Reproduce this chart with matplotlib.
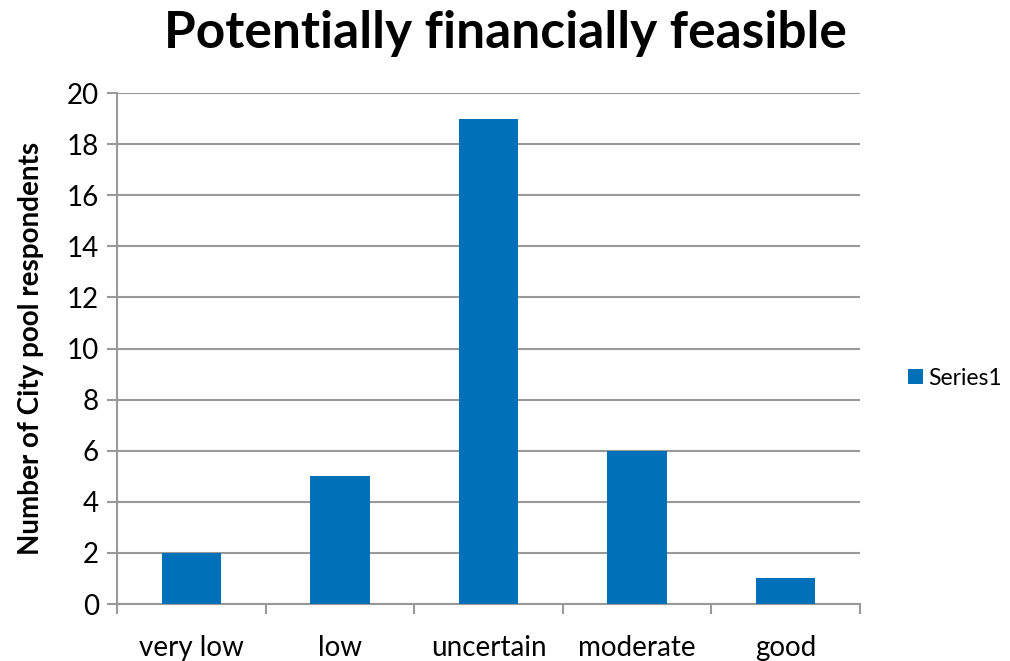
import matplotlib.pyplot as plt
from matplotlib.ticker import FixedLocator, NullFormatter

categories = ["very low", "low", "uncertain", "moderate", "good"]
values = [2, 5, 19, 6, 1]
yticks = list(range(0, 21, 2))

plt.rcParams['font.family'] = ['Lato', 'DejaVu Sans']

fig = plt.figure(figsize=(10.10, 6.61), dpi=100)
ax = fig.add_axes([0.1158, 0.0862, 0.7357, 0.7731])

x = list(range(len(categories)))
ax.bar(x, values, width=0.4, color="#0070B8", label="Series1", zorder=3)

ax.set_xlim(-0.5, len(categories) - 0.5)
ax.set_ylim(0, 20)
ax.set_yticks(yticks)
ax.set_xticks(x)
ax.set_xticklabels(categories, fontsize=20)
ax.xaxis.set_minor_locator(FixedLocator([i - 0.5 for i in range(len(categories) + 1)]))
ax.xaxis.set_minor_formatter(NullFormatter())
ax.tick_params(axis="x", which="major", length=0, pad=22)
ax.tick_params(axis="x", which="minor", length=7, width=1.5, color="#999999", direction="out")
ax.tick_params(axis="y", length=7, width=1.5, color="#999999", labelsize=20, pad=6)
ax.grid(axis="y", color="#999999", linewidth=1.5, zorder=0)

for side in ["top", "right"]:
    ax.spines[side].set_visible(False)
for side in ["left", "bottom"]:
    ax.spines[side].set_color("#999999")
    ax.spines[side].set_linewidth(1.5)

ax.set_ylabel("Number of City pool respondents", fontsize=20, fontweight="bold", labelpad=16)
fig.suptitle("Potentially financially feasible", fontsize=37, fontweight="bold", x=0.5, y=0.985)

ax.legend(loc="center left", bbox_to_anchor=(1.052, 0.442), frameon=False, fontsize=16.5,
          handlelength=0.65, handleheight=0.65, handletextpad=0.25, borderaxespad=0.0)

fig.savefig("out.png", dpi=100)
